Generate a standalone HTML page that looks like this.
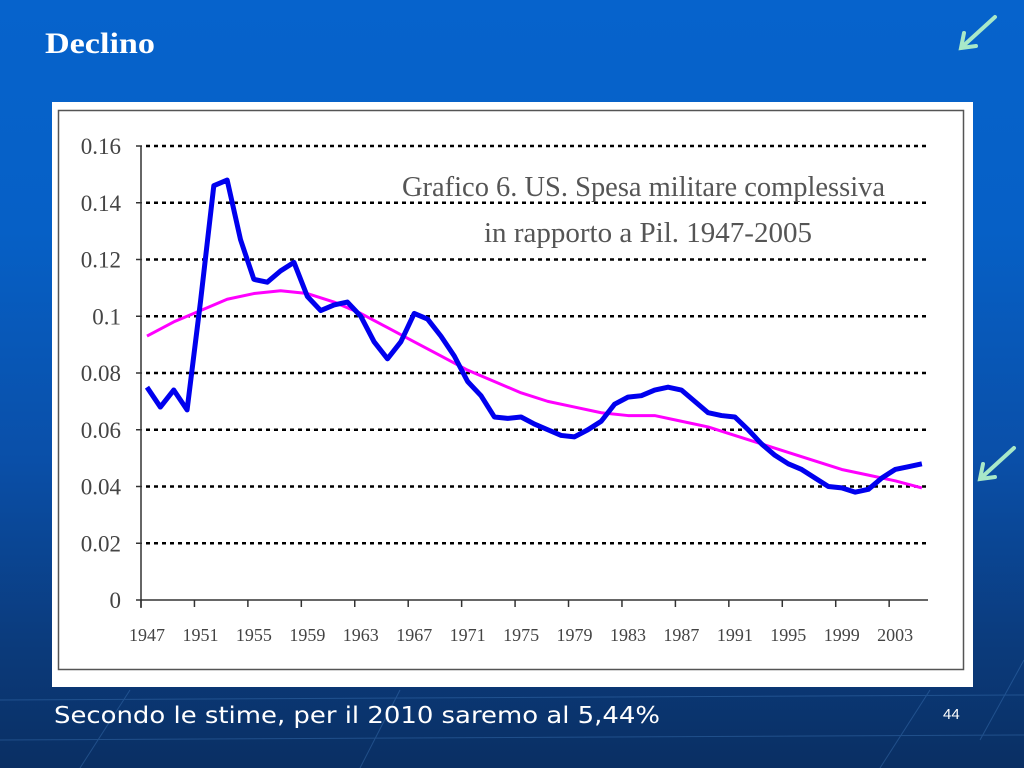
<!DOCTYPE html>
<html><head><meta charset="utf-8"><style>
body{margin:0;width:1024px;height:768px;overflow:hidden;font-family:"Liberation Sans",sans-serif;}
#bg{position:absolute;left:0;top:0;width:1024px;height:768px;background:linear-gradient(180deg,#0663cc 0%,#0660c6 30%,#0a4fa8 60%,#0b3a7a 85%,#0a2f63 100%);}
</style></head><body>
<div id="bg"></div>
<svg width="1024" height="768" style="position:absolute;left:0;top:0">
<g stroke="#4a86c8" stroke-width="1" opacity="0.35">
<line x1="0" y1="700" x2="1024" y2="695"/><line x1="0" y1="740" x2="1024" y2="735"/>
<line x1="80" y1="768" x2="130" y2="690"/><line x1="360" y1="768" x2="400" y2="690"/><line x1="880" y1="768" x2="930" y2="690"/><line x1="980" y1="740" x2="1024" y2="660"/>
</g>
<text x="45" y="53" font-family="Liberation Serif" font-weight="bold" font-size="30" fill="#fff" textLength="110" lengthAdjust="spacingAndGlyphs">Declino</text>
<g stroke="#a8e8c8" stroke-width="4" fill="none" stroke-linecap="round">
<line x1="995" y1="17" x2="962" y2="47"/><polyline points="964,33 961,48 976,46"/></g>
<g stroke="#a8e8c8" stroke-width="4" fill="none" stroke-linecap="round">
<line x1="1014" y1="448" x2="981" y2="478"/><polyline points="983,464 980,479 995,477"/></g>
<rect x="52" y="102" width="921" height="585" fill="#fff"/>
<rect x="58.5" y="110.5" width="905" height="559" fill="none" stroke="#555" stroke-width="1.5"/>
<g id="chart"></g>
<text x="54" y="723" font-family="DejaVu Sans" font-size="23" fill="#fff" textLength="606" lengthAdjust="spacingAndGlyphs">Secondo le stime, per il 2010 saremo al 5,44%</text>
<text x="943" y="719" font-size="15" fill="#fff">44</text>
</svg>
<script>
const yTicks=[0,0.02,0.04,0.06,0.08,0.1,0.12,0.14,0.16];
const yTickLabels=["0","0.02","0.04","0.06","0.08","0.1","0.12","0.14","0.16"];
const xTickLabels=[1947,1951,1955,1959,1963,1967,1971,1975,1979,1983,1987,1991,1995,1999,2003];
const years=[];for(let y=1947;y<=2005;y++)years.push(y);
const spending=[0.075,0.068,0.074,0.067,0.105,0.146,0.148,0.127,0.113,0.112,0.116,0.119,0.107,0.102,0.104,0.105,0.100,0.091,0.085,0.091,0.101,0.099,0.093,0.086,0.077,0.072,0.0645,0.064,0.0645,0.062,0.060,0.058,0.0575,0.060,0.063,0.069,0.0715,0.072,0.074,0.075,0.074,0.070,0.066,0.065,0.0645,0.060,0.055,0.051,0.048,0.046,0.043,0.040,0.0395,0.038,0.039,0.043,0.046,0.047,0.048];
const trendYears=[1947,1949,1951,1953,1955,1957,1959,1961,1963,1965,1967,1969,1971,1973,1975,1977,1979,1981,1983,1985,1987,1989,1991,1993,1995,1997,1999,2001,2003,2005];
const trend=[0.093,0.098,0.102,0.106,0.108,0.109,0.108,0.105,0.101,0.096,0.091,0.086,0.081,0.077,0.073,0.070,0.068,0.066,0.065,0.065,0.063,0.061,0.058,0.055,0.052,0.049,0.046,0.044,0.042,0.0395];
const NS='http://www.w3.org/2000/svg';
const g=document.getElementById('chart');
const xs=yr=>147+(yr-1947)*13.36;
const ys=v=>600-v*(454/0.16);
function mk(t,a){const e=document.createElementNS(NS,t);for(const k in a)e.setAttribute(k,a[k]);g.appendChild(e);return e;}
yTicks.forEach((v,i)=>{
 if(v>0){const l=mk('line',{x1:146,x2:926,y1:ys(v),y2:ys(v),stroke:'#000','stroke-width':2.5,'stroke-dasharray':'4 4'});
 
 }
 const t=mk('line',{x1:136,x2:142,y1:ys(v),y2:ys(v),stroke:'#333','stroke-width':1.5});
 
 
 const tx=mk('text',{x:121,y:ys(v)+8,'text-anchor':'end','font-family':'Liberation Serif','font-size':23,fill:'#444'});
 tx.textContent=yTickLabels[i];
 
 
});
const ya=mk('line',{x1:141,x2:141,y1:146,y2:608,stroke:'#333','stroke-width':1.5});


const xa=mk('line',{x1:141,x2:928,y1:600,y2:600,stroke:'#333','stroke-width':1.5});


xTickLabels.forEach(yr=>{
 const t=mk('line',{x1:xs(yr)-6,x2:xs(yr)-6,y1:600,y2:607,stroke:'#333','stroke-width':1.5});
 
 
 const tx=mk('text',{x:xs(yr),y:641,'text-anchor':'middle','font-family':'Liberation Serif','font-size':18,fill:'#444'});
 tx.textContent=yr;
 
 
});
const tl=mk('text',{x:402,y:196,'font-family':'Liberation Serif','font-size':29,fill:'#555',textLength:483,lengthAdjust:'spacingAndGlyphs'});
tl.textContent='Grafico 6. US. Spesa militare complessiva';


const tl2=mk('text',{x:484,y:242,'font-family':'Liberation Serif','font-size':29,fill:'#555',textLength:328,lengthAdjust:'spacingAndGlyphs'});
tl2.textContent='in rapporto a Pil. 1947-2005';


const tp=mk('polyline',{points:trendYears.map((y,i)=>xs(y)+','+ys(trend[i])).join(' '),fill:'none',stroke:'#ff00ff','stroke-width':3,'stroke-linejoin':'round'});


const sp=mk('polyline',{points:years.map((y,i)=>xs(y)+','+ys(spending[i])).join(' '),fill:'none',stroke:'#0000ee','stroke-width':5,'stroke-linejoin':'round'});


</script>
</body></html>
